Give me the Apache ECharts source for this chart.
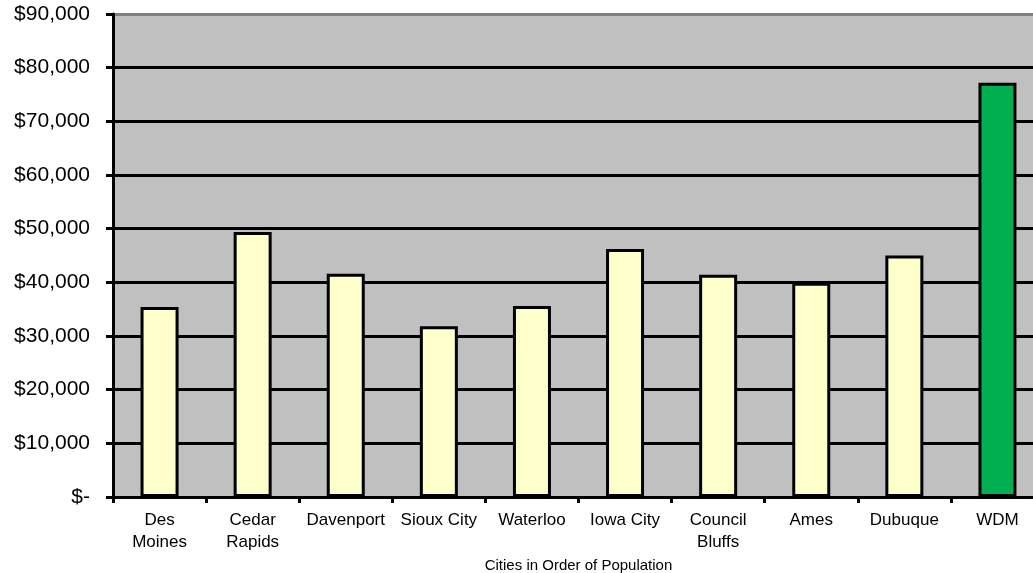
<!DOCTYPE html>
<html>
<head>
<meta charset="utf-8">
<script src="https://cdn.jsdelivr.net/npm/echarts@6/dist/echarts.min.js"></script>
<style>
  html, body { margin: 0; padding: 0; background: #ffffff; }
  #chart { width: 1033px; height: 573px; }
</style>
</head>
<body>
<div id="chart"></div>
<script>
// Iowa cities, listed by population, with West Des Moines (WDM) last
const cities = ['Des\nMoines', 'Cedar\nRapids', 'Davenport', 'Sioux City', 'Waterloo',
                'Iowa City', 'Council\nBluffs', 'Ames', 'Dubuque', 'WDM'];
const incomes = [35400, 49400, 41600, 31800, 35600, 46200, 41400, 39900, 45000, 77200];
const highlightCity = 'WDM';

const yMin = 0;
const yMax = 90000;
const yStep = 10000;

const FONT = '"Liberation Sans", Arial, sans-serif';

function money(v) {
  if (v === 0) return '$-';
  return '$' + v.toLocaleString('en-US');
}

// one colour per gridline; the top edge of the plot is drawn grey
const gridColors = [];
for (let v = yMin; v <= yMax; v += yStep) gridColors.push(v === yMax ? '#808080' : '#000000');

const chart = echarts.init(document.getElementById('chart'), null, { renderer: 'canvas' });

chart.setOption({
  animation: false,
  backgroundColor: '#ffffff',
  grid: {
    left: 113, top: 14, width: 931, height: 483,
    outerBoundsMode: 'none', containLabel: false,
    show: true, backgroundColor: '#C0C0C0', borderWidth: 0
  },
  xAxis: {
    type: 'category',
    data: cities,
    boundaryGap: true,
    name: 'Cities in Order of Population',
    nameLocation: 'middle',
    nameGap: 54,
    nameTextStyle: { fontFamily: FONT, fontSize: 15, color: '#000' },
    axisLine: { show: true, onZero: false, lineStyle: { color: '#000', width: 3 } },
    axisTick: { show: true, length: 6, lineStyle: { color: '#000', width: 3 } },
    axisLabel: {
      interval: 0, margin: 12, fontFamily: FONT, fontSize: 17, lineHeight: 22, color: '#000'
    },
    splitLine: { show: false }
  },
  yAxis: {
    type: 'value',
    min: yMin, max: yMax, interval: yStep,
    axisLine: { show: true, lineStyle: { color: '#000', width: 3 } },
    axisTick: { show: true, length: 7, lineStyle: { color: '#000', width: 3 } },
    axisLabel: {
      formatter: money, margin: 23, fontFamily: FONT, fontSize: 21, color: '#000'
    },
    splitLine: { show: true, showMinLine: true, showMaxLine: true,
                 lineStyle: { color: gridColors, width: 3 } }
  },
  series: [{
    type: 'bar',
    barWidth: 38,
    data: incomes.map((v, i) => ({
      value: v,
      itemStyle: {
        color: cities[i] === highlightCity ? '#00B050' : '#FFFFCC',
        borderColor: '#000', borderWidth: 3
      }
    })),
    z: 3
  }]
});
</script>
</body>
</html>
